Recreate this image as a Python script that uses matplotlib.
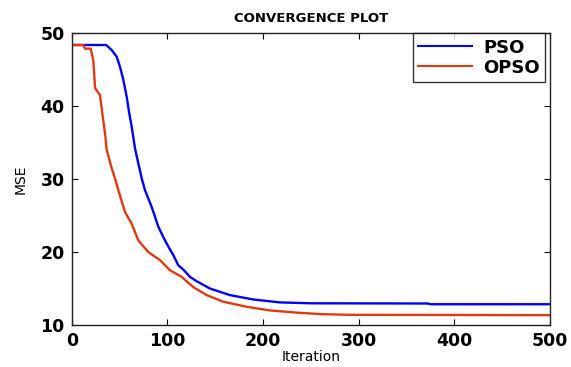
import numpy as np
import matplotlib.pyplot as plt

# best-so-far MSE per iteration
pso_iter = [0, 36, 41.8, 47, 50.5, 54, 57.5, 60.2, 62.7, 66.2, 69.6, 73.2, 76.6, 83.6, 90.5, 97.5,
            103, 106.2, 111.4, 116.7, 123.7, 130.7, 144.6, 165.5, 189.9, 217.8, 250, 373, 375, 500]
pso_mse = [48.4, 48.4, 47.7, 46.8, 45.4, 43.6, 41.3, 39.0, 37.2, 34.2, 32.2, 30.1, 28.5, 26.2, 23.5, 21.6,
           20.3, 19.6, 18.2, 17.6, 16.6, 16.0, 15.0, 14.1, 13.5, 13.1, 12.98, 12.95, 12.85, 12.85]

opso_iter = [0, 12.1, 13.9, 19.8, 22.6, 24.4, 27, 29.6, 32.4, 34.8, 36.6, 41.8, 45.3, 48.7, 55.7, 62.7,
             69.6, 80.1, 92.3, 102.8, 115, 127.1, 141.1, 158.5, 182.9, 207.3, 235.2, 259.6, 290, 500]
opso_mse = [48.4, 48.4, 47.9, 47.9, 46.3, 42.5, 42.0, 41.5, 38.6, 36.3, 34.0, 31.5, 30.1, 28.5, 25.5, 23.9,
            21.6, 20.0, 18.9, 17.5, 16.6, 15.2, 14.1, 13.2, 12.5, 12.0, 11.7, 11.5, 11.4, 11.35]

xticks = [0, 100, 200, 300, 400, 500]
yticks = [10, 20, 30, 40, 50]

fig = plt.figure(figsize=(5.71, 3.67), dpi=100)
ax = fig.add_axes([0.1256, 0.1144, 0.8374, 0.7948])

ax.plot(pso_iter, pso_mse, color='#0000ff', lw=1.7, label='PSO')
ax.plot(opso_iter, opso_mse, color='#e03a12', lw=1.7, label='OPSO')

ax.set_xlim(0, 500)
ax.set_ylim(10, 50)
ax.set_xticks(xticks)
ax.set_yticks(yticks)
ax.tick_params(direction='in', top=True, right=True, length=4, width=0.8, pad=5)
for lbl in ax.get_xticklabels() + ax.get_yticklabels():
    lbl.set_fontfamily('DejaVu Sans')
    lbl.set_fontweight('bold')
    lbl.set_fontsize(12.5)
for s in ax.spines.values():
    s.set_linewidth(1.0)
    s.set_color('#222222')

ax.set_title('CONVERGENCE PLOT', fontfamily='DejaVu Sans', fontweight='bold', fontsize=9.5, pad=8)
ax.set_xlabel('Iteration', fontfamily='DejaVu Sans', fontsize=10, labelpad=0)
ax.set_ylabel('MSE', fontfamily='DejaVu Sans', fontsize=10, labelpad=9)

leg = ax.legend(loc='upper right', fancybox=False, borderaxespad=0.0, handlelength=3.0,
                prop={'family': 'DejaVu Sans', 'weight': 'bold', 'size': 13},
                borderpad=0.3, labelspacing=0.1, handletextpad=0.6,
                bbox_to_anchor=(0.99, 1.0))
leg.get_frame().set_edgecolor('black')
leg.get_frame().set_linewidth(1.0)
for h in leg.get_lines():
    h.set_linewidth(1.5)

plt.savefig('out.png', dpi=100)
